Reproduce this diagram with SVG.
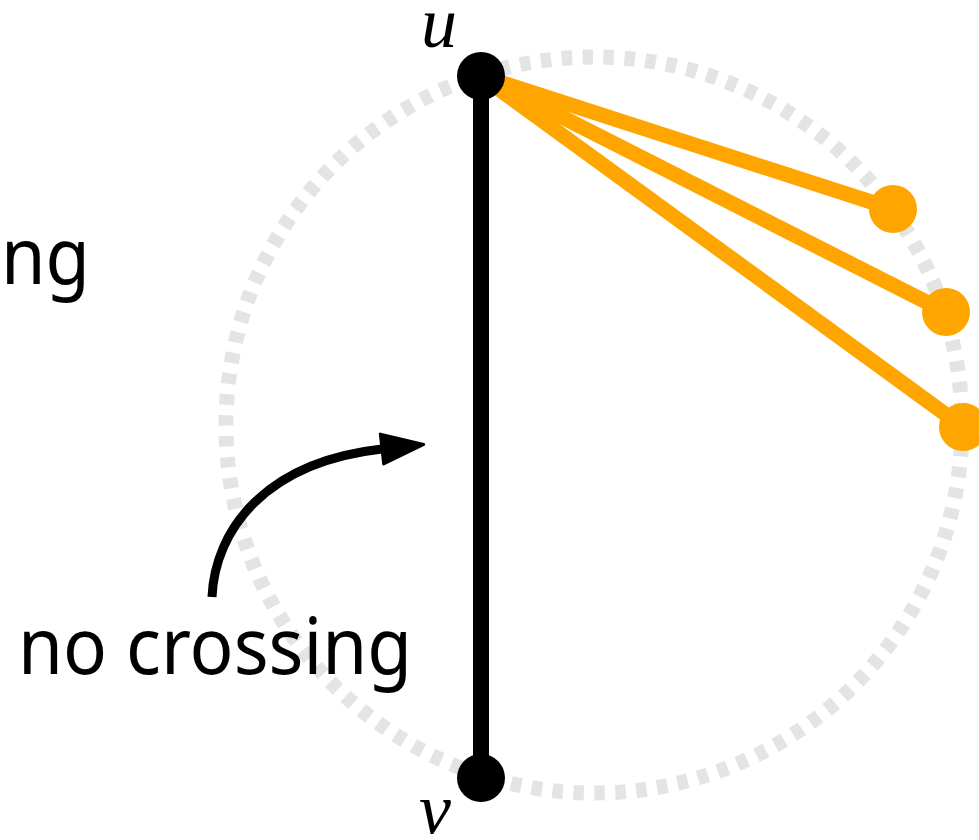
<svg xmlns="http://www.w3.org/2000/svg" width="979" height="840" viewBox="0 0 979 840">
<defs>
<style>
.lbl{font-family:"Noto Sans","Open Sans",sans-serif;font-size:78px;fill:#000}
.var{font-family:"Liberation Serif","Times New Roman",serif;font-style:italic;font-size:72px;fill:#000}
.orange{stroke:#ffa500;stroke-width:15;fill:none}
.onode{fill:#ffa500}
</style>
<marker id="ah" markerUnits="userSpaceOnUse" viewBox="0 0 46 34" refX="2" refY="17" markerWidth="46" markerHeight="34" orient="auto">
<path d="M2,2 L44,17 L2,32 Z" fill="#000" stroke="#000" stroke-width="3" stroke-linejoin="round"/>
</marker>
</defs>
<rect width="979" height="840" fill="#fff"/>
<circle id="ring" cx="594" cy="425" r="368" fill="none" stroke="#e3e4e4" stroke-width="15" stroke-dasharray="10.5 10.5"/>
<text class="lbl" x="1" y="284" textLength="89" lengthAdjust="spacingAndGlyphs">ng</text>
<g id="connectors">
<line class="orange" x1="481" y1="76" x2="893" y2="209"/>
<line class="orange" x1="481" y1="76" x2="946" y2="312"/>
<line class="orange" x1="481" y1="76" x2="963" y2="427"/>
<line x1="481" y1="76" x2="481" y2="778" stroke="#000" stroke-width="16"/>
<path d="M212,597 C215,530 265,462 382,449" fill="none" stroke="#000" stroke-width="9" marker-end="url(#ah)"/>
</g>
<g id="node-w1"><circle class="onode" cx="893" cy="209" r="24"/></g>
<g id="node-w2"><circle class="onode" cx="946" cy="312" r="24"/></g>
<g id="node-w3"><circle class="onode" cx="963" cy="427" r="24"/></g>
<g id="node-u"><circle cx="481" cy="76" r="24" fill="#000"/><text class="var" x="421" y="47">u</text></g>
<g id="node-v"><circle cx="481" cy="778" r="24" fill="#000"/><text class="var" x="419" y="833">v</text></g>
<text class="lbl" x="18" y="674" textLength="394" lengthAdjust="spacingAndGlyphs">no crossing</text>
</svg>
